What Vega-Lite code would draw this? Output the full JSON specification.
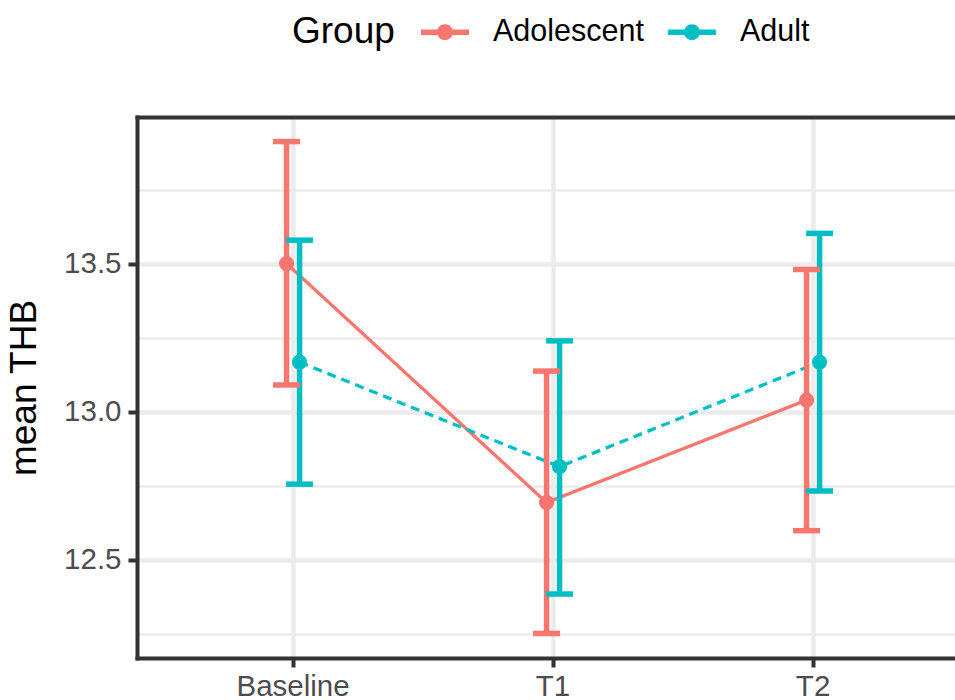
{
  "$schema": "https://vega.github.io/schema/vega-lite/v6.json",
  "width": 818,
  "height": 541,
  "autosize": {"type": "none"},
  "padding": {"left": 137, "top": 117, "right": 0, "bottom": 42},
  "background": "white",
  "config": {
    "font": "Liberation Sans",
    "view": {"stroke": null}
  },
  "data": {
    "values": [
      {"time": "Baseline", "group": "Adolescent", "mean": 13.5, "lower": 13.09, "upper": 13.912},
      {"time": "Baseline", "group": "Adult", "mean": 13.167, "lower": 12.755, "upper": 13.579},
      {"time": "T1", "group": "Adolescent", "mean": 12.693, "lower": 12.251, "upper": 13.137},
      {"time": "T1", "group": "Adult", "mean": 12.814, "lower": 12.384, "upper": 13.239},
      {"time": "T2", "group": "Adolescent", "mean": 13.039, "lower": 12.598, "upper": 13.48},
      {"time": "T2", "group": "Adult", "mean": 13.167, "lower": 12.732, "upper": 13.602}
    ]
  },
  "resolve": {"axis": {"x": "independent"}},
  "encoding": {
    "x": {
      "field": "time", "type": "nominal", "sort": ["Baseline", "T1", "T2"],
      "scale": {"type": "band", "paddingInner": 0.9, "paddingOuter": 0.523, "align": 0.526},
      "axis": null
    },
    "xOffset": {"field": "group", "type": "nominal", "sort": ["Adolescent", "Adult"]},
    "color": {
      "field": "group", "type": "nominal",
      "scale": {"domain": ["Adolescent", "Adult"], "range": ["#F8766D", "#00BFC4"]},
      "legend": {
        "title": "Group", "orient": "none", "legendX": 155, "legendY": -109,
        "direction": "horizontal", "titleOrient": "left",
        "titleFontSize": 37, "titleFontWeight": "normal", "titleColor": "black", "titleFont": "Liberation Sans",
        "titlePadding": 26, "titleBaseline": "middle",
        "labelFontSize": 30.5, "labelColor": "black", "labelFont": "Liberation Sans",
        "labelOffset": 24, "columnPadding": 24,
        "symbolType": "M-1,-0.11H1V0.11H-1Z M0.33,0A0.33,0.33 0 1,1 -0.33,0A0.33,0.33 0 1,1 0.33,0Z",
        "symbolSize": 2304, "symbolStrokeWidth": 0, "symbolOpacity": 1,
        "encode": {
          "symbols": {"update": {"fill": {"scale": "color", "field": "value"}, "stroke": {"value": "transparent"}}},
          "title": {"update": {"dy": {"value": 4}}}
        }
      }
    }
  },
  "layer": [
    {
      "mark": {"type": "line", "strokeWidth": 3.3},
      "encoding": {
        "x": {
          "field": "time", "type": "nominal", "sort": ["Baseline", "T1", "T2"],
          "axis": {
            "title": null, "labelAngle": 0, "labelFontSize": 29.5, "labelColor": "#4D4D4D",
            "labelFont": "Liberation Sans", "tickColor": "#333333", "tickWidth": 4, "tickSize": 9,
            "labelPadding": 5, "domain": true, "domainColor": "#333333", "domainWidth": 4, "domainCap": "square",
            "grid": true, "gridColor": "#EBEBEB", "gridWidth": 4.5
          }
        },
        "y": {
          "field": "mean", "type": "quantitative",
          "scale": {"domain": [12.168, 13.995], "nice": false, "zero": false},
          "axis": {
            "title": "mean THB", "titleFontSize": 37, "titleFontWeight": "normal", "titleColor": "black",
            "titleFont": "Liberation Sans", "titlePadding": 20,
            "values": [12.25, 12.5, 12.75, 13, 13.25, 13.5, 13.75],
            "labelExpr": "(datum.value * 4) % 2 == 0 ? format(datum.value, '.1f') : ''",
            "labelFontSize": 29.5, "labelColor": "#4D4D4D", "labelFont": "Liberation Sans", "labelPadding": 7,
            "tickSize": 9, "tickWidth": 4,
            "tickColor": {"condition": {"test": "(datum.value * 4) % 2 == 0", "value": "#333333"}, "value": "transparent"},
            "domain": true, "domainColor": "#333333", "domainWidth": 4, "domainCap": "square",
            "grid": true, "gridColor": "#EBEBEB",
            "gridWidth": {"condition": {"test": "(datum.value * 4) % 2 == 0", "value": 4.5}, "value": 2.3}
          }
        },
        "strokeDash": {
          "field": "group", "type": "nominal",
          "scale": {"domain": ["Adolescent", "Adult"], "range": [[1, 0], [9, 6]]},
          "legend": null
        }
      }
    },
    {
      "mark": {"type": "rule", "strokeWidth": 5.5, "opacity": 1},
      "encoding": {
        "y": {"field": "lower", "type": "quantitative"},
        "y2": {"field": "upper"}
      }
    },
    {
      "mark": {"type": "tick", "thickness": 5.5, "size": 27, "orient": "horizontal", "opacity": 1},
      "encoding": {"y": {"field": "lower", "type": "quantitative"}}
    },
    {
      "mark": {"type": "tick", "thickness": 5.5, "size": 27, "orient": "horizontal", "opacity": 1},
      "encoding": {"y": {"field": "upper", "type": "quantitative"}}
    },
    {
      "mark": {"type": "point", "filled": true, "opacity": 1, "size": 230},
      "encoding": {
        "x": {
          "field": "time", "type": "nominal", "sort": ["Baseline", "T1", "T2"],
          "axis": {
            "orient": "top", "title": null, "labels": false, "ticks": false, "grid": false,
            "domain": true, "domainColor": "#333333", "domainWidth": 4, "domainCap": "square"
          }
        },
        "y": {"field": "mean", "type": "quantitative"}
      }
    }
  ]
}
